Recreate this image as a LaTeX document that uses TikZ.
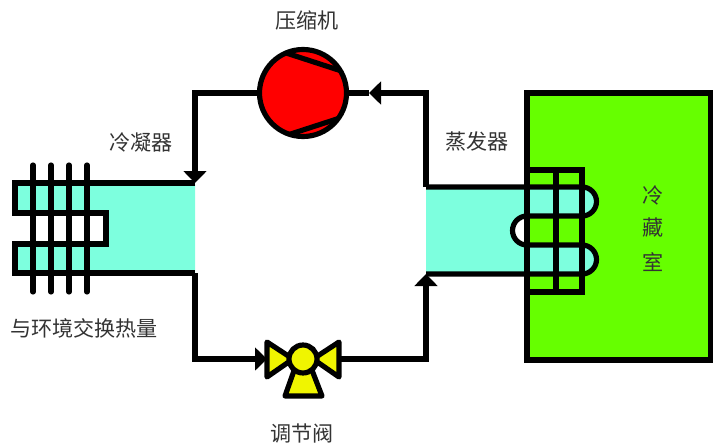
\documentclass[tikz,border=0pt]{standalone}
\usepackage{fontspec}
\setmainfont{Noto Sans CJK SC}
\usetikzlibrary{arrows.meta}
\definecolor{pipecyan}{RGB}{125,255,222}
\definecolor{roomgreen}{RGB}{102,255,0}
\definecolor{valveyellow}{RGB}{240,245,0}
\begin{document}
\begin{tikzpicture}[x=0.03cm, y=-0.03cm, >={Triangle[length=0.36cm,width=0.68cm]},
    pipe/.style={line width=4.4pt, line join=miter},
    label/.style={font=\fontsize{18pt}{20pt}\selectfont, text=black!80, inner sep=0pt}]
    \useasboundingbox (0,0) rectangle (713,445);

    % Draw Cold Room
    \node[draw, fill=roomgreen, line width=4.4pt, outer sep=0pt, inner sep=0pt, minimum width=5.52cm, minimum height=8.01cm] (room) at (619,226.5) {};

    % Draw Condenser
    \fill[pipecyan] (15,183) -- (195,183) -- (195,273) -- (15,273) -- (15,244) -- (106,244) -- (106,213) -- (15,213) -- cycle;
    \draw[pipe] (195,183) -- (15,183) -- (15,213) -- (106,213) -- (106,244) -- (15,244) -- (15,273) -- (195,273);
    \foreach \finx in {33,51,69,87}
        \draw[pipe, line cap=round] (\finx,165) -- (\finx,292);

    % Draw Evaporator
    \fill[pipecyan] (426,187) -- (582,187) arc[start angle=-90, end angle=90, radius=14.5] -- (527,216) arc[start angle=-90, end angle=-270, radius=14.5] -- (582,245) arc[start angle=-90, end angle=90, radius=14.5] -- (426,274) -- cycle;
    \fill[roomgreen] (527,216) rectangle (582,245);
    \fill[white] (527,216) arc[start angle=-90, end angle=-270, radius=14.5] -- cycle;
    \draw[pipe] (426,187) -- (582,187) arc[start angle=-90, end angle=90, radius=14.5] -- (527,216) arc[start angle=-90, end angle=-270, radius=14.5] -- (582,245) arc[start angle=-90, end angle=90, radius=14.5] -- (426,274);
    \draw[pipe] (527,170) rectangle (582,292);
    \draw[pipe] (556,170) -- (556,292);
    \draw[line width=4.4pt] (room.north west) -- (room.south west);

    % Draw Compressor
    \node[draw, circle, fill=red, line width=4.4pt, outer sep=0pt, inner sep=0pt, minimum size=2.61cm] (comp) at (303,93) {};
    \draw[pipe] (comp.113) -- (comp.31);
    \draw[pipe] (comp.252) -- (comp.324);

    % Draw Expansion Valve
    \coordinate (valveL) at (267,359);
    \coordinate (valveR) at (339,359);
    \draw[pipe, fill=valveyellow, line join=round] (267,342) -- (293,359) -- (267,377) -- cycle;
    \draw[pipe, fill=valveyellow, line join=round] (339,342) -- (313,359) -- (339,377) -- cycle;
    \draw[pipe, fill=valveyellow, line join=round] (296,365) -- (310,365) -- (322,396) -- (285,396) -- cycle;
    \node[draw, circle, fill=valveyellow, line width=4.4pt, outer sep=0pt, inner sep=0pt, minimum size=0.84cm] (valve) at (303,359) {};

    % Draw Refrigerant Lines
    \coordinate (condIn) at (195,183);
    \coordinate (condOut) at (195,273);
    \coordinate (evapIn) at (426,274);
    \coordinate (evapOut) at (426,187);
    \coordinate (lineMid) at (369,93);
    \draw[pipe, ->] (comp.west) -| (condIn);
    \draw[pipe, ->] (condOut) |- (valveL);
    \draw[pipe] (valveR) -| (426,290);
    \draw[pipe, ->] (426,300) -- (evapIn);
    \draw[pipe, ->] (evapOut) |- (lineMid);
    \draw[pipe] (lineMid) -- (comp.east);

    % Draw Labels
    \node[label] (compText) at (307,20) {压缩机};
    \node[label] (condText) at (141,142) {冷凝器};
    \node[label] (evapText) at (477,142) {蒸发器};
    \node[label] (heatText) at (84,328) {与环境交换热量};
    \node[label] (valveText) at (302,433) {调节阀};
    \node[label] (roomA) at (653,195) {冷};
    \node[label] (roomB) at (653,228) {藏};
    \node[label] (roomC) at (653,262) {室};
\end{tikzpicture}
\end{document}
